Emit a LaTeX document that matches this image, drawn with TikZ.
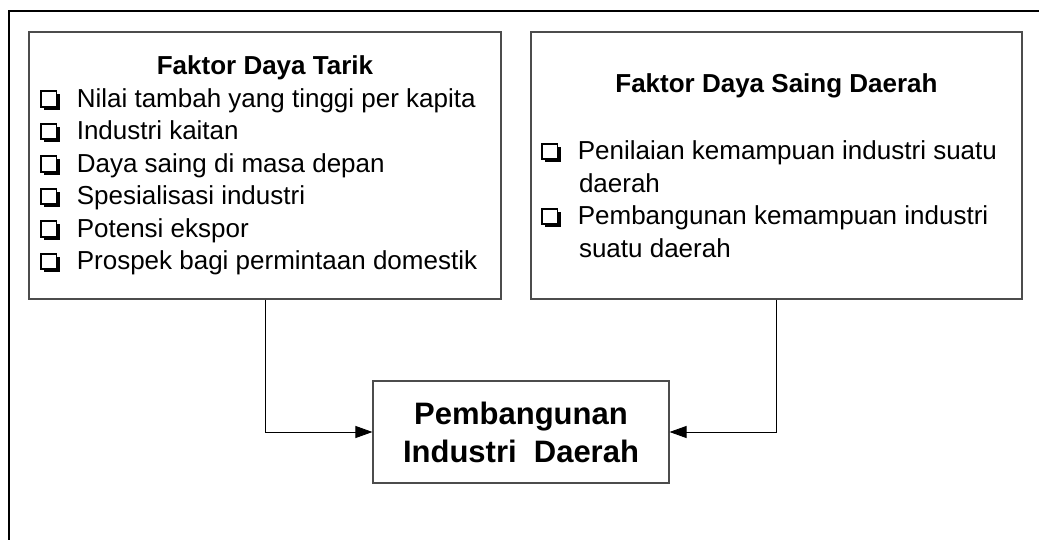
\documentclass[tikz,border=0pt]{standalone}
\usepackage{fontspec}
\setmainfont{Liberation Sans}
\usetikzlibrary{arrows.meta}

\newcommand{\kotak}{\tikz[baseline=0pt,line width=1.6pt]{\fill (3.5pt,-2.5pt) rectangle (19pt,13pt); \filldraw[fill=white] (0pt,0.5pt) rectangle (15.5pt,16pt);}}
\newcommand{\butir}[1]{\kotak\hspace{17pt}#1}

\begin{document}
\begin{tikzpicture}[x=1pt,y=-1pt,>={Triangle[length=17pt,width=12pt]},
		faktor/.style={draw=black!70,line width=1.1pt,inner sep=0pt,minimum height=267pt,font=\fontsize{26}{32.5}\selectfont},
		tujuan/.style={draw=black!70,line width=1.1pt,inner sep=0pt,minimum width=296pt,minimum height=102pt,align=center,font=\fontsize{31}{38}\selectfont\bfseries}]
			\useasboundingbox (0,0) rectangle (1039,540);
			\draw[line width=2pt] (9,540) -- (9,11) -- (1039,11);
			
			\node[faktor,minimum width=472pt] (tarik) at (265,165.5) {\parbox{450pt}{\centering\bfseries Faktor Daya Tarik\par
				\raggedright\mdseries
				\butir{Nilai tambah yang tinggi per kapita}\par
				\butir{Industri kaitan}\par
				\butir{Daya saing di masa depan}\par
				\butir{Spesialisasi industri}\par
				\butir{Potensi ekspor}\par
				\butir{Prospek bagi permintaan domestik}}};
			\node[faktor,minimum width=491pt] (saing) at (776.5,165.5) {\parbox{471pt}{\centering\bfseries Faktor Daya Saing Daerah\par\vspace{35pt}
				\raggedright\mdseries
				\butir{Penilaian kemampuan industri suatu}\\\hspace*{38pt}daerah\par
				\butir{Pembangunan kemampuan industri}\\\hspace*{38pt}suatu daerah}};
			\node[tujuan] (goal) at (521,432) {Pembangunan\\Industri\ \ Daerah};
			
			\draw[->,line width=0.9pt] (tarik.south) |- (goal.west);
			\draw[->,line width=0.9pt] (saing.south) |- (goal.east);
		\end{tikzpicture}
\end{document}
